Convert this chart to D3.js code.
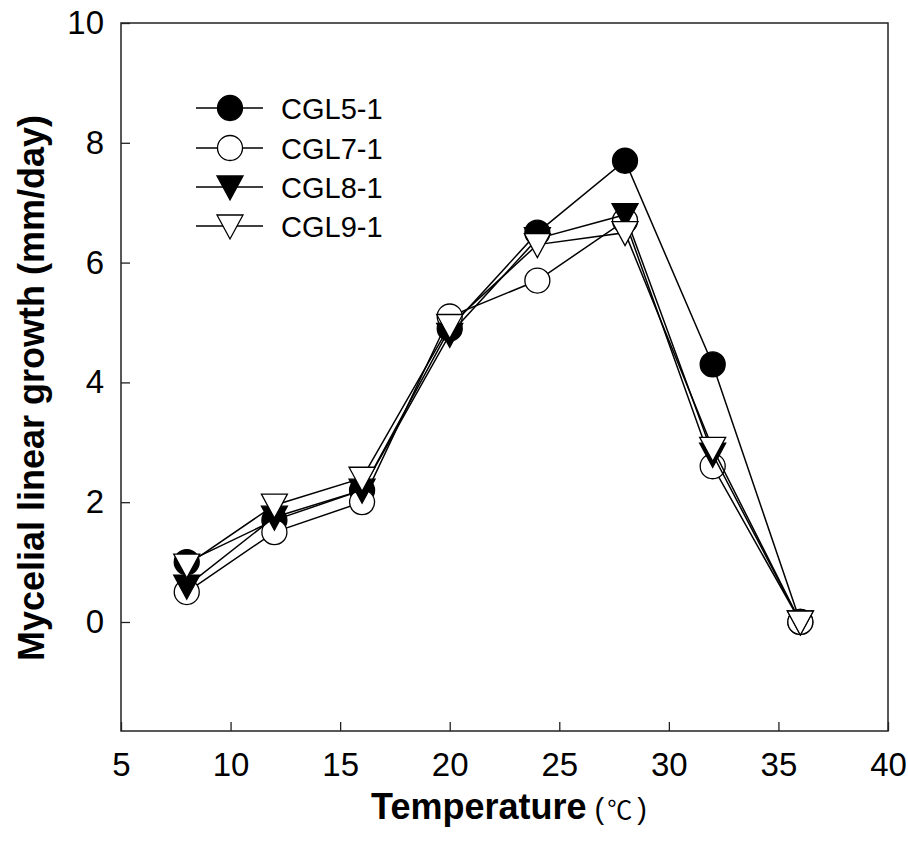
<!DOCTYPE html>
<html>
<head>
<meta charset="utf-8">
<script src="https://cdn.jsdelivr.net/npm/d3@7"></script>
<style>
body { margin: 0; background: #fff; }
text { font-family: "Liberation Sans", Arial, sans-serif; }
</style>
</head>
<body>
<svg></svg>
<script>
// temperatures (deg C)
var temps = [8, 12, 16, 20, 24, 28, 32, 36]

// growth in mm/day for each isolate
var cgl5 = [1.0, 1.7, 2.2, 4.9, 6.5, 7.7, 4.3, 0]
var cgl7 = [0.5, 1.5, 2.0, 5.1, 5.7, 6.7, 2.6, 0]
var cgl8 = [0.6, 1.75, 2.2, 4.8, 6.4, 6.8, 2.8, 0]
var cgl9 = [0.95, 1.95, 2.4, 4.95, 6.3, 6.5, 2.9, 0]

var seriesNames = ["CGL5-1", "CGL7-1", "CGL8-1", "CGL9-1"]
var xTicks = [5, 10, 15, 20, 25, 30, 35, 40]
var yTicks = [0, 2, 4, 6, 8, 10]

var screen = { width: 908, height: 842 }
var margins = { left: 121, right: 20, top: 23, bottom: 111 }
var graph = {
    width: screen.width - margins.left - margins.right,
    height: screen.height - margins.top - margins.bottom
}

var svg = d3.select("svg")
    .attr("width", screen.width)
    .attr("height", screen.height)

var xScale = d3.scaleLinear()
    .domain([5, 40])
    .range([0, graph.width])

var yScale = d3.scaleLinear()
    .domain([-1.82, 10])
    .range([graph.height, 0])

var target = svg.append("g")
    .attr("transform", "translate(" + margins.left + "," + margins.top + ")")

// frame
target.append("rect")
    .attr("width", graph.width)
    .attr("height", graph.height)
    .attr("fill", "none")
    .attr("stroke", "#222")
    .attr("stroke-width", 1.5)

// axes with inward ticks
var xAxis = d3.axisBottom(xScale)
    .tickValues(xTicks)
    .tickSizeInner(-9)
    .tickSizeOuter(0)
    .tickPadding(22)
var yAxis = d3.axisLeft(yScale)
    .tickValues(yTicks)
    .tickSizeInner(-9)
    .tickSizeOuter(0)
    .tickPadding(17)

var gx = target.append("g")
    .attr("transform", "translate(0," + graph.height + ")")
    .call(xAxis)
var gy = target.append("g")
    .call(yAxis)

;[gx, gy].forEach(function (g) {
    g.select(".domain").remove()
    g.selectAll(".tick line").attr("stroke", "#222").attr("stroke-width", 1.3)
    g.selectAll(".tick text")
        .attr("fill", "#000")
        .style("font-size", "33px")
        .style("font-family", "'Liberation Sans', Arial, sans-serif")
})

var allSeries = [cgl5, cgl7, cgl8, cgl9].map(function (vals, i) {
    return {
        name: seriesNames[i],
        points: temps.map(function (t, j) { return { temp: t, growth: vals[j] } })
    }
})

var symbolFor = function (i) {
    return (i < 2) ? "circle" : "triangle"
}
var fillFor = function (i) {
    return (i % 2 == 0) ? "#000" : "#fff"
}

var drawMarker = function (g, i, cx, cy) {
    if (symbolFor(i) == "circle") {
        g.append("circle")
            .attr("cx", cx).attr("cy", cy).attr("r", 12.5)
            .attr("fill", fillFor(i))
            .attr("stroke", "#000")
            .attr("stroke-width", 1.3)
    } else {
        var w = 13, h = 11
        g.append("path")
            .attr("d", "M" + (cx - w) + "," + (cy - h) + "L" + (cx + w) + "," + (cy - h) +
                "L" + cx + "," + (cy + h + 2) + "Z")
            .attr("fill", fillFor(i))
            .attr("stroke", "#000")
            .attr("stroke-width", 1.3)
    }
}

var lineGenerator = d3.line()
    .x(function (p) { return xScale(p.temp) })
    .y(function (p) { return yScale(p.growth) })

allSeries.forEach(function (s, i) {
    var g = target.append("g").classed("series", true)
    g.append("path")
        .datum(s.points)
        .attr("d", lineGenerator)
        .attr("fill", "none")
        .attr("stroke", "#000")
        .attr("stroke-width", 1.5)
    s.points.forEach(function (p) {
        drawMarker(g, i, xScale(p.temp), yScale(p.growth))
    })
})

// legend
var legend = svg.append("g")
var legendY = [108, 148, 187, 226]
seriesNames.forEach(function (name, i) {
    var y = legendY[i]
    legend.append("line")
        .attr("x1", 196).attr("x2", 263)
        .attr("y1", y).attr("y2", y)
        .attr("stroke", "#000")
        .attr("stroke-width", 1.5)
    drawMarker(legend, i, 230, y)
    legend.append("text")
        .attr("x", 281)
        .attr("y", y + 11)
        .style("font-size", "29px")
        .text(name)
})

// axis titles
var xTitle = svg.append("text")
    .attr("x", 509)
    .attr("y", 819)
    .attr("text-anchor", "middle")
    .style("font-size", "36px")
xTitle.append("tspan")
    .style("font-weight", "bold")
    .text("Temperature")
xTitle.append("tspan")
    .attr("dx", 8)
    .style("font-size", "29px")
    .text("(")
xTitle.append("tspan")
    .attr("dx", 3)
    .style("font-family", "'Noto Sans CJK SC', sans-serif")
    .style("font-size", "25px")
    .text("℃")
xTitle.append("tspan")
    .attr("dx", 5)
    .style("font-size", "29px")
    .text(")")

svg.append("text")
    .attr("transform", "translate(44," + 388 + ") rotate(-90)")
    .attr("text-anchor", "middle")
    .style("font-size", "36px")
    .style("font-weight", "bold")
    .text("Mycelial linear growth (mm/day)")
</script>
</body>
</html>
